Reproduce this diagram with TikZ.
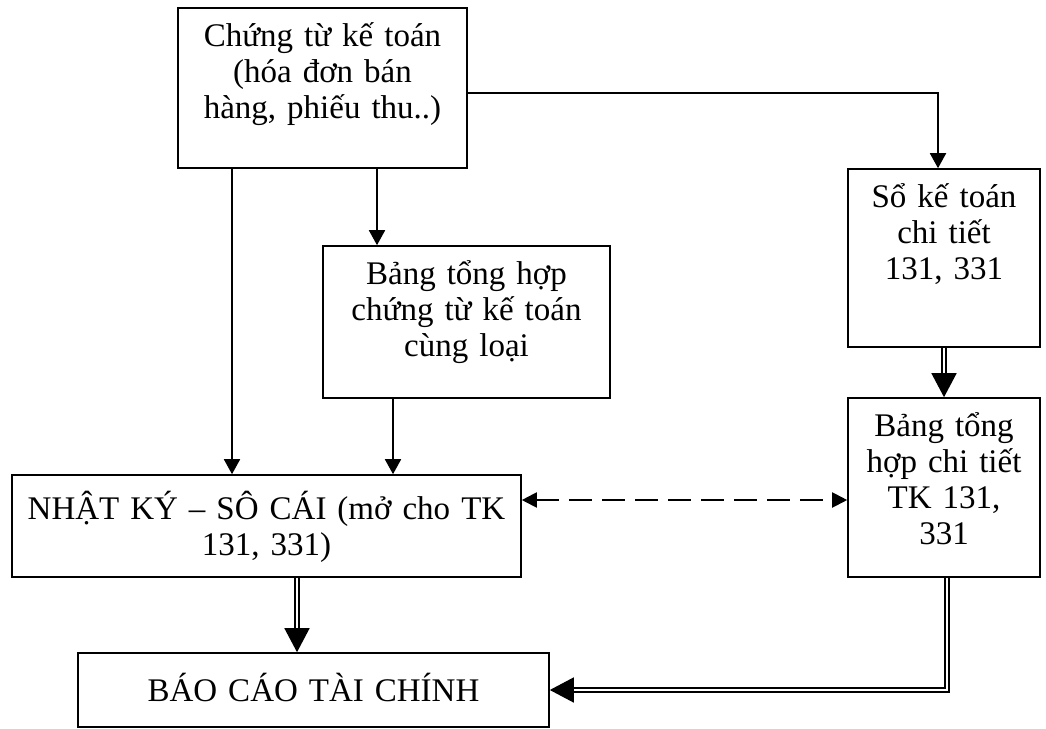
\documentclass[tikz,border=0pt]{standalone}
\usepackage{fontspec}
\setmainfont{Liberation Serif}
\usetikzlibrary{arrows.meta}
\begin{document}
\begin{tikzpicture}[x=1pt,y=-1pt,
  box/.style={draw,line width=1.6pt,inner sep=0pt},
  txt/.style={anchor=base,inner sep=0pt,align=center,font=\fontsize{33}{36}\selectfont},
  arr/.style={line width=1.8pt,-{Triangle[length=15pt,width=16pt]}},
  dbl/.style={double,double distance=2.6pt,line width=1.5pt,-{Triangle[length=24pt,width=25pt]}},
  dsh/.style={line width=2pt,dash pattern=on 23pt off 10pt,{Triangle[length=15pt,width=15pt]}-{Triangle[length=15pt,width=15pt]}}]
\useasboundingbox (0,0) rectangle (1046,728);
% boxes
\node[box,minimum width=289,minimum height=160](a)at(322.5,88){};
\node[box,minimum width=287,minimum height=152](b)at(466.5,322){};
\node[box,minimum width=192,minimum height=178](c)at(944,258){};
\node[box,minimum width=192,minimum height=179](d)at(944,487.5){};
\node[box,minimum width=509,minimum height=102](e)at(266.5,526){};
\node[box,minimum width=471,minimum height=74](f)at(313.5,690){};
% texts
\node[txt,text width=289](ta)at([yshift=-39]a.north){Chứng từ kế toán\\(hóa đơn bán\\hàng, phiếu thu..)};
\node[txt,text width=287](tb)at([yshift=-39]b.north){Bảng tổng hợp\\chứng từ kế toán\\cùng loại};
\node[txt,text width=192](tc)at([yshift=-39]c.north){Sổ kế toán\\chi tiết\\131, 331};
\node[txt,text width=192](td)at([yshift=-39]d.north){Bảng tổng\\hợp chi tiết\\TK 131,\\331};
\node[txt,text width=509](te)at([yshift=-45]e.north){NHẬT KÝ – SÔ CÁI (mở cho TK\\131, 331)};
\node[txt,text width=471](tf)at([yshift=-49]f.north){BÁO CÁO TÀI CHÍNH};
% connectors
\coordinate(a1)at([xshift=-90.5]a.south);
\coordinate(a2)at([xshift=54.5]a.south);
\coordinate(a3)at([yshift=-5]a.east);
\coordinate(c1)at([xshift=-6]c.north);
\coordinate(b1)at([xshift=-73.5]b.south);
\coordinate(e1)at([xshift=30.5]e.south);
\coordinate(e2)at([yshift=26]e.east);
\coordinate(d1)at([xshift=3]d.south);
\draw[arr](a1)--(a1|-e.north);
\draw[arr](a2)--(a2|-b.north);
\draw[arr](a3)-|(c1);
\draw[arr](b1)--(b1|-e.north);
\draw[dbl](c.south)--(d.north);
\draw[dbl](e1)--(e1|-f.north);
\draw[dbl](d1)|-(f.east);
\draw[dsh](e2)--(e2-|d.west);
\end{tikzpicture}
\end{document}
